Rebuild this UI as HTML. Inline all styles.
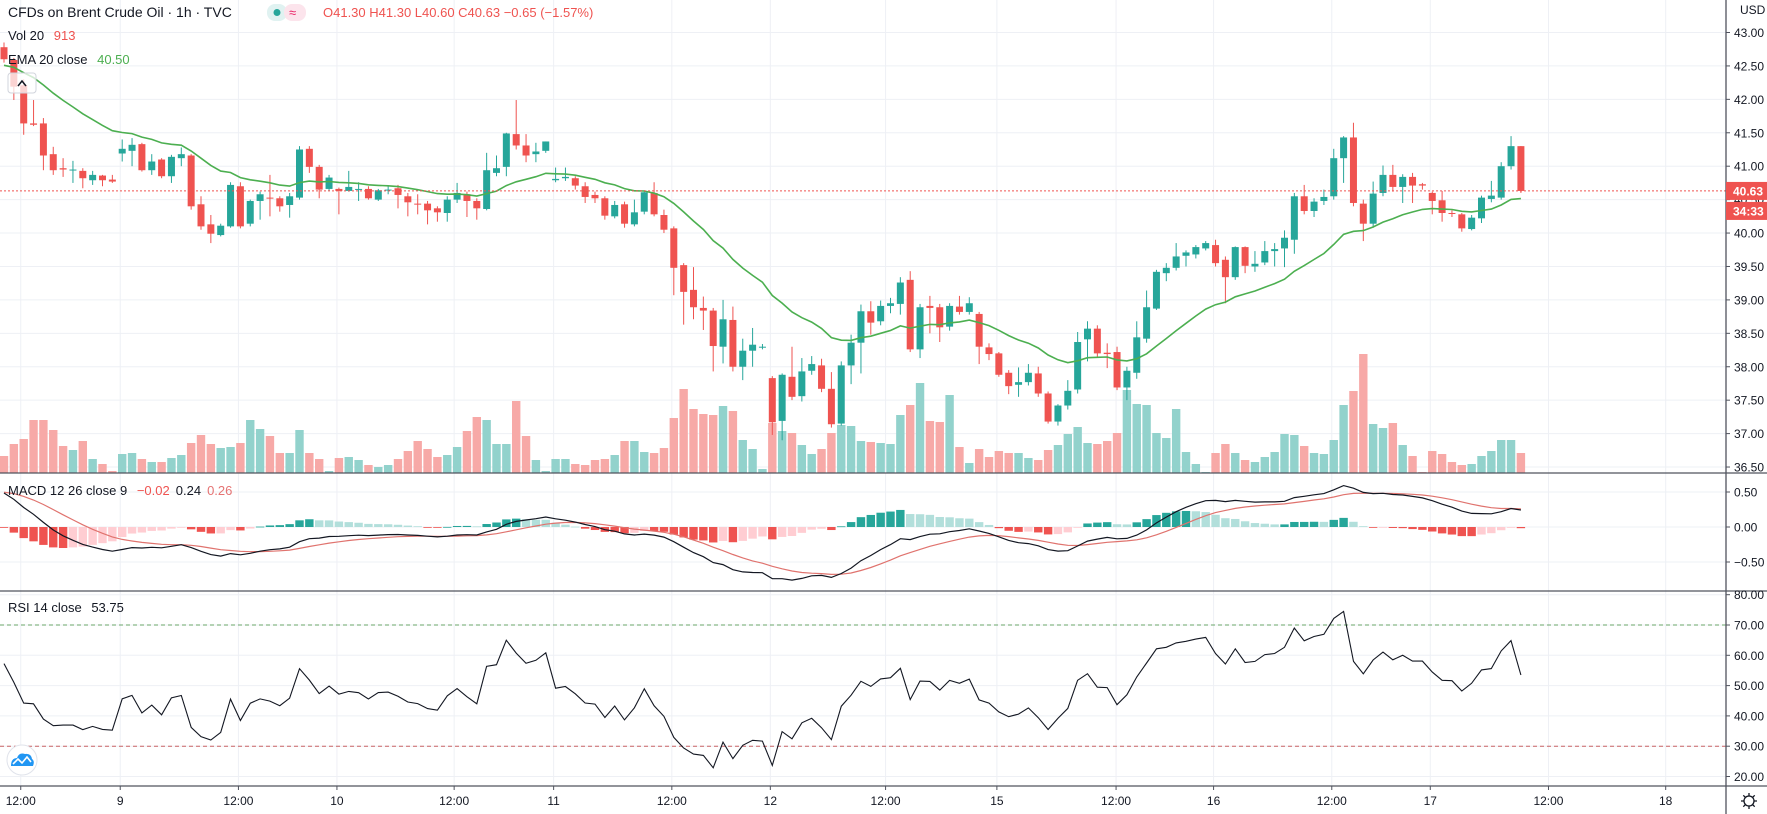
<!DOCTYPE html>
<html><head><meta charset="utf-8"><title>Brent Crude Oil 1h</title>
<style>
html,body{margin:0;padding:0;background:#fff;}
body{width:1767px;height:814px;overflow:hidden;position:relative;font-family:"Liberation Sans",sans-serif;}
svg{position:absolute;left:0;top:0;}
text{font-family:"Liberation Sans",sans-serif;}
</style></head>
<body>
<svg id="chart" width="1767" height="814" viewBox="0 0 1767 814">
  <g id="grid"></g>
  <g id="volumes"></g>
  <g id="candles"></g>
  <g id="overlay"></g>
  <g id="axes"></g>
  <g id="legend">
    <text x="8" y="17" font-size="14" fill="#131722">CFDs on Brent Crude Oil · 1h · TVC</text>
    <rect x="267" y="4" width="20" height="17" rx="8" fill="#e0f2f1"/>
    <rect x="284" y="4" width="22" height="17" rx="8" fill="#fce4ec"/>
    <circle cx="277" cy="12.5" r="3.5" fill="#26a69a"/>
    <text x="289" y="17" font-size="13" fill="#e91e63">≈</text>
    <text x="323" y="17" font-size="13" fill="#ef5350">O41.30  H41.30  L40.60  C40.63  −0.65 (−1.57%)</text>
    <text x="8" y="40" font-size="13" fill="#131722">Vol 20 <tspan fill="#ef5350" dx="6">913</tspan></text>
    <text x="8" y="64" font-size="13" fill="#131722">EMA 20 close <tspan fill="#4caf50" dx="6">40.50</tspan></text>
    <rect x="8" y="73" width="28" height="20" rx="3" fill="rgba(255,255,255,0.75)" stroke="#d1d4dc"/>
    <path d="M18 86 L22 81 L26 86" fill="none" stroke="#131722" stroke-width="1.5"/>
    <text x="8" y="495" font-size="13" fill="#131722">MACD 12 26 close 9 <tspan fill="#ef5350" dx="6">−0.02</tspan><tspan fill="#131722" dx="6">0.24</tspan><tspan fill="#e57373" dx="6">0.26</tspan></text>
    <text x="8" y="612" font-size="13" fill="#131722">RSI 14 close <tspan dx="6">53.75</tspan></text>
    <g>
      <circle cx="22" cy="760" r="15" fill="#fff" stroke="#e0e3eb"/>
      <path d="M11 766 Q11 758 17 758 Q19 752 25 754 Q31 753 32 759 Q35 761 33 766 Z" fill="#2196f3"/>
      <path d="M13 764 L18 759 L22 763 L27 757 L31 762" fill="none" stroke="#fff" stroke-width="1.6"/>
    </g>
    <g transform="translate(1749,801)">
      <circle r="5" fill="none" stroke="#131722" stroke-width="1.3"/>
      <path d="M0 -8 V-5 M0 5 V8 M-8 0 H-5 M5 0 H8 M-5.7 -5.7 L-3.5 -3.5 M3.5 3.5 L5.7 5.7 M-5.7 5.7 L-3.5 3.5 M3.5 -3.5 L5.7 -5.7" stroke="#131722" stroke-width="1.3"/>
    </g>
  </g>
</svg>
<script>
// ---- data ----
const opens=[42.78,42.59,42.21,41.64,41.64,41.18,40.97,40.95,40.93,40.79,40.86,40.80,41.19,41.23,41.33,40.94,41.10,40.85,41.12,41.16,40.43,40.13,39.97,40.10,40.70,40.14,40.48,40.53,40.52,40.42,40.53,41.26,40.99,40.66,40.66,40.63,40.66,40.66,40.50,40.64,40.67,40.55,40.44,40.44,40.37,40.30,40.50,40.58,40.48,40.36,40.90,40.99,41.48,41.31,41.18,41.23,40.79,40.82,40.82,40.70,40.57,40.52,40.25,40.43,40.13,40.32,40.60,40.27,40.07,39.52,39.15,38.88,38.84,38.30,38.70,38.00,38.24,38.30,37.83,37.19,37.85,37.56,37.94,38.02,37.67,37.15,38.02,38.36,38.83,38.68,38.91,38.94,39.30,38.26,38.91,38.89,38.60,38.90,38.82,38.79,38.29,38.20,37.91,37.73,37.77,37.90,37.60,37.18,37.42,37.66,38.41,38.57,38.21,38.22,37.69,37.91,38.42,38.87,39.40,39.48,39.66,39.68,39.77,39.82,39.60,39.34,39.79,39.50,39.56,39.73,39.77,39.90,40.55,40.33,40.48,40.55,41.12,41.43,40.44,40.14,40.60,40.87,40.69,40.84,40.73,40.60,40.49,40.30,40.28,40.06,40.22,40.51,40.53,41.00,41.30];
const highs=[42.85,42.62,42.30,41.99,41.72,41.29,41.12,41.08,40.97,40.93,40.87,40.87,41.40,41.42,41.35,41.18,41.12,41.17,41.28,41.18,40.55,40.27,40.14,40.76,40.76,40.50,40.62,40.87,40.55,40.60,41.30,41.30,41.02,40.87,40.68,40.93,40.76,40.70,40.66,40.70,40.72,40.60,40.58,40.48,40.40,40.55,40.75,40.62,40.52,41.20,41.16,41.50,41.99,41.48,41.35,41.37,40.98,40.98,40.85,40.76,40.62,40.55,40.48,40.47,40.50,40.64,40.76,40.35,40.10,39.55,39.49,39.05,38.88,39.00,38.90,38.42,38.58,38.34,37.86,37.90,38.30,38.13,38.16,38.12,37.92,38.08,38.48,38.93,38.98,38.99,39.03,39.34,39.43,38.94,39.06,38.94,38.95,39.06,39.04,38.82,38.35,38.22,37.95,37.99,38.04,38.00,37.63,37.44,37.80,38.52,38.68,38.62,38.35,38.30,38.00,38.68,39.14,39.45,39.55,39.85,39.74,39.82,39.88,39.90,39.65,39.80,39.80,39.73,39.88,39.85,40.04,40.60,40.72,40.52,40.65,41.26,41.45,41.65,40.50,40.77,41.01,41.02,40.88,40.90,40.75,40.62,40.63,40.34,40.30,40.27,40.56,40.78,41.06,41.45,41.30];
const lows=[42.55,41.99,41.47,41.60,40.94,40.87,40.84,40.75,40.67,40.72,40.70,40.75,41.07,41.00,40.92,40.87,40.82,40.75,41.00,40.35,40.05,39.85,39.95,40.08,40.07,40.10,40.20,40.25,40.32,40.23,40.50,40.90,40.52,40.63,40.28,40.62,40.48,40.50,40.48,40.58,40.37,40.25,40.28,40.13,40.17,40.17,40.45,40.24,40.20,40.34,40.85,40.85,41.25,41.06,41.06,41.20,40.76,40.78,40.65,40.45,40.45,40.20,40.22,40.08,40.10,40.28,40.25,40.00,39.07,38.63,38.71,38.55,37.93,38.05,37.93,37.80,38.00,38.26,36.98,36.90,37.50,37.48,37.88,37.62,37.09,37.12,37.74,37.90,38.48,38.62,38.80,38.78,38.22,38.13,38.50,38.37,38.54,38.78,38.78,38.04,38.10,37.85,37.59,37.55,37.72,37.55,37.15,37.12,37.36,37.60,38.08,38.15,37.98,37.65,37.50,37.82,38.36,38.85,39.28,39.44,39.50,39.62,39.74,39.50,38.95,39.30,39.40,39.42,39.52,39.50,39.49,39.69,40.28,40.24,40.42,40.50,40.75,40.40,39.88,40.08,40.55,40.62,40.45,40.45,40.65,40.28,40.17,40.24,40.02,40.04,40.15,40.46,40.50,40.95,40.60];
const closes=[42.60,42.19,41.64,41.62,41.16,40.94,40.95,40.95,40.82,40.87,40.79,40.77,41.26,41.32,40.94,41.07,40.85,41.14,41.18,40.40,40.10,39.99,40.11,40.72,40.10,40.48,40.58,40.52,40.40,40.55,41.25,40.99,40.65,40.83,40.63,40.69,40.66,40.52,40.64,40.65,40.57,40.46,40.43,40.34,40.31,40.50,40.60,40.48,40.37,40.94,40.97,41.49,41.31,41.16,41.22,41.37,40.81,40.84,40.71,40.54,40.52,40.26,40.42,40.14,40.31,40.61,40.28,40.05,39.48,39.12,38.89,38.84,38.31,38.71,38.00,38.24,38.33,38.30,37.17,37.88,37.55,37.93,38.04,37.67,37.14,38.02,38.36,38.83,38.66,38.91,38.95,39.26,38.26,38.89,38.88,38.59,38.91,38.82,38.95,38.30,38.19,37.88,37.71,37.77,37.91,37.60,37.18,37.42,37.64,38.37,38.57,38.20,38.19,37.69,37.94,38.44,38.89,39.42,39.48,39.65,39.71,39.79,39.85,39.55,39.34,39.79,39.51,39.54,39.73,39.76,39.93,40.55,40.33,40.47,40.54,41.12,41.43,40.45,40.14,40.59,40.87,40.69,40.84,40.71,40.71,40.48,40.30,40.29,40.07,40.23,40.53,40.56,41.00,41.30,40.63];
const volumes=[17,29,34,53,53,43,27,23,32,14,9,2,19,20,14,11,11,15,18,30,38,29,25,26,30,53,44,37,20,20,43,20,14,2,15,16,13,8,6,8,14,22,32,24,16,18,26,42,56,53,29,29,72,37,13,2,14,14,9,8,13,14,18,32,32,21,20,25,55,84,64,59,58,67,62,33,24,4,50,42,40,28,19,24,40,48,47,32,31,30,29,58,68,90,52,51,78,26,10,24,16,22,20,20,15,13,23,28,39,46,30,29,32,40,83,69,68,40,35,64,21,9,1,20,29,20,13,11,16,21,39,38,27,20,19,33,68,82,119,49,45,50,28,17,1,22,19,11,8,9,17,22,33,33,20];
const timeLabels=["12:00","9","12:00","10","12:00","11","12:00","12","12:00","15","12:00","16","12:00","17","12:00","18"];
const timeLabelBars=[1.7,11.8,23.8,33.8,45.7,55.8,67.8,77.8,89.5,100.8,112.9,122.8,134.8,144.8,156.8,168.7];
const priceTicks=[43,42.5,42,41.5,41,40.5,40,39.5,39,38.5,38,37.5,37,36.5];
const macdTicks=[0.5,0,-0.5];
const rsiTicks=[80,70,60,50,40,30,20];
const lastPrice=40.63;

// ---- scales ----
const PLOT_R=1726;
const xBar=i=>4+i*9.85;
const yPrice=p=>32.5+(43-p)*66.85;
const yVolBase=473;
const volScale=1.0;
const yMacd=m=>527-m*70;
const yRsi=v=>625+(70-v)*3.03;
const NS="http://www.w3.org/2000/svg";
function mk(tag,attrs,parent){const e=document.createElementNS(NS,tag);for(const k in attrs)e.setAttribute(k,attrs[k]);parent.appendChild(e);return e;}
const G=document.getElementById('grid'),V=document.getElementById('volumes'),C=document.getElementById('candles'),O=document.getElementById('overlay'),A=document.getElementById('axes');
const UP="#26a69a",DN="#ef5350";

// grid
priceTicks.forEach(p=>{const l=mk('line',{x1:0,x2:PLOT_R,y1:yPrice(p),y2:yPrice(p),stroke:"#eef0f5","stroke-width":1},G);

});
macdTicks.forEach(m=>{const l=mk('line',{x1:0,x2:PLOT_R,y1:yMacd(m),y2:yMacd(m),stroke:"#eef0f5"},G);

});
rsiTicks.forEach(v=>{const l=mk('line',{x1:0,x2:PLOT_R,y1:yRsi(v),y2:yRsi(v),stroke:"#eef0f5"},G);

});
timeLabelBars.forEach(b=>{const x=xBar(b);const l=mk('line',{x1:x,x2:x,y1:0,y2:786,stroke:"#eef0f5"},G);

});

// volumes
volumes.forEach((v,i)=>{const h=v*volScale;const r=mk('rect',{x:xBar(i)-4.2,y:yVolBase-h,width:8.4,height:h,fill:closes[i]>=opens[i]?"#92d2cc":"#f7a9a7"},V);

});

// candles
closes.forEach((c,i)=>{const o=opens[i],x=xBar(i),col=c>=o?UP:DN;
const w=mk('line',{x1:x,x2:x,y1:yPrice(highs[i]),y2:yPrice(lows[i]),stroke:col,"stroke-width":1},C);


const t=yPrice(Math.max(o,c)),b=yPrice(Math.min(o,c));
const r=mk('rect',{x:x-3.5,y:t,width:7,height:Math.max(1,b-t),fill:col},C);

});

// EMA 20
let ema=42.5;const emaPts=[];const aE=2/21;
closes.forEach((c,i)=>{ema=c*aE+ema*(1-aE);emaPts.push(xBar(i).toFixed(1)+","+yPrice(ema).toFixed(1));});
const emaLine=mk('polyline',{points:emaPts.join(" "),fill:"none",stroke:"#4caf50","stroke-width":1.6},O);



// last price line
const lp=mk('line',{x1:0,x2:PLOT_R,y1:yPrice(lastPrice),y2:yPrice(lastPrice),stroke:"#ef5350","stroke-width":1,"stroke-dasharray":"2,2"},O);



// MACD
let e12=42.9,e26=42.35,sig=0.5;const a12=2/13,a26=2/27,a9=2/10;
const macdPts=[],sigPts=[];let prevH=null;
closes.forEach((c,i)=>{e12=c*a12+e12*(1-a12);e26=c*a26+e26*(1-a26);const m=e12-e26;sig=m*a9+sig*(1-a9);const h=m-sig;
let col;if(h>=0)col=(prevH!==null&&h<prevH)?"#b2dfdb":"#26a69a";else col=(prevH!==null&&h>prevH)?"#ffcdd2":"#ef5350";
prevH=h;const y0=yMacd(0),y1=yMacd(h);
const r=mk('rect',{x:xBar(i)-4.2,y:Math.min(y0,y1),width:8.4,height:Math.max(0.8,Math.abs(y1-y0)),fill:col},O);


macdPts.push(xBar(i).toFixed(1)+","+yMacd(m).toFixed(1));sigPts.push(xBar(i).toFixed(1)+","+yMacd(sig).toFixed(1));});
const sl=mk('polyline',{points:sigPts.join(" "),fill:"none",stroke:"#e0736e","stroke-width":1.2},O);


const ml=mk('polyline',{points:macdPts.join(" "),fill:"none",stroke:"#131722","stroke-width":1.2},O);



// RSI
const b70=mk('line',{x1:0,x2:PLOT_R,y1:yRsi(70),y2:yRsi(70),stroke:"#6aa56a","stroke-dasharray":"4,3"},O);


const b30=mk('line',{x1:0,x2:PLOT_R,y1:yRsi(30),y2:yRsi(30),stroke:"#c96464","stroke-dasharray":"4,3"},O);


let ag=0.15,al=0.112;const rsiPts=[];
closes.forEach((c,i)=>{if(i>0){const d=c-closes[i-1];ag=(ag*13+Math.max(d,0))/14;al=(al*13+Math.max(-d,0))/14;}
const r=al===0?100:100-100/(1+ag/al);rsiPts.push(xBar(i).toFixed(1)+","+yRsi(r).toFixed(1));});
const rl=mk('polyline',{points:rsiPts.join(" "),fill:"none",stroke:"#131722","stroke-width":1.1},O);



// pane borders & axis
[[473],[591],[786]].forEach(([y])=>{const l=mk('line',{x1:0,x2:1767,y1:y,y2:y,stroke:"#50535e","stroke-width":1.3},A);

});
const ax=mk('line',{x1:PLOT_R,x2:PLOT_R,y1:0,y2:814,stroke:"#50535e","stroke-width":1.3},A);


function axisLabel(y,txt,name){const tk=mk('line',{x1:PLOT_R,x2:PLOT_R+4,y1:y,y2:y,stroke:"#50535e"},A);


const t=mk('text',{x:PLOT_R+8,y:y+4.5,"font-size":12,fill:"#131722"},A);t.textContent=txt;

}
priceTicks.forEach(p=>axisLabel(yPrice(p),p.toFixed(2),'price-tick-label'));
macdTicks.forEach(m=>axisLabel(yMacd(m),(m<0?"−":"")+Math.abs(m).toFixed(2),'macd-tick-label'));
rsiTicks.forEach(v=>axisLabel(yRsi(v),v.toFixed(2),'rsi-tick-label'));
const usd=mk('text',{x:1740,y:14,"font-size":12,fill:"#131722"},A);usd.textContent="USD";


const py=yPrice(lastPrice);
const pb=mk('rect',{x:PLOT_R,y:py-9,width:41,height:18,fill:"#ef5350"},A);


const pt=mk('text',{x:PLOT_R+7,y:py+4.5,"font-size":12,fill:"#fff","font-weight":"bold"},A);pt.textContent=lastPrice.toFixed(2);


const cb=mk('rect',{x:PLOT_R,y:py+11,width:41,height:18,fill:"#ef5350"},A);


const ct=mk('text',{x:PLOT_R+7,y:py+24.5,"font-size":12,fill:"#fff","font-weight":"bold"},A);ct.textContent="34:33";



// time axis
timeLabels.forEach((lab,k)=>{const x=xBar(timeLabelBars[k]);
const tk=mk('line',{x1:x,x2:x,y1:786,y2:790,stroke:"#50535e"},A);


const t=mk('text',{x:x,y:805,"font-size":12,fill:"#131722","text-anchor":"middle"},A);t.textContent=lab;

});
</script>
</body></html>
